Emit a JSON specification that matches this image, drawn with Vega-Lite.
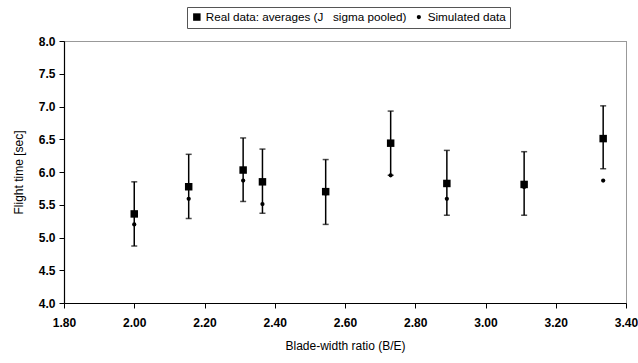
{
  "$schema": "https://vega.github.io/schema/vega-lite/v6.json",
  "width": 562,
  "height": 262,
  "autosize": "none",
  "padding": {"left": 64, "top": 41, "right": 12, "bottom": 60},
  "background": "white",
  "config": {
    "font": "Liberation Sans",
    "view": {"stroke": "#333", "strokeDash": [1, 1], "strokeWidth": 1},
    "axis": {"grid": false, "domainColor": "black", "tickColor": "black", "labelColor": "black", "titleColor": "black", "labelFontSize": 12, "labelFontWeight": "bold", "titleFontSize": 12, "titleFontWeight": "normal", "domainWidth": 1.2, "labelOverlap": false}
  },
  "data": {
    "values": [
      {"ratio": 2.00, "real": 5.36, "sim": 5.20, "lo": 4.87, "hi": 5.85},
      {"ratio": 2.155, "real": 5.775, "sim": 5.59, "lo": 5.29, "hi": 6.27},
      {"ratio": 2.31, "real": 6.03, "sim": 5.87, "lo": 5.55, "hi": 6.52},
      {"ratio": 2.365, "real": 5.85, "sim": 5.51, "lo": 5.37, "hi": 6.35},
      {"ratio": 2.545, "real": 5.70, "sim": 5.67, "lo": 5.20, "hi": 6.19},
      {"ratio": 2.73, "real": 6.44, "sim": 5.95, "lo": 5.95, "hi": 6.93},
      {"ratio": 2.89, "real": 5.825, "sim": 5.59, "lo": 5.34, "hi": 6.33},
      {"ratio": 3.11, "real": 5.81, "sim": 5.77, "lo": 5.34, "hi": 6.31},
      {"ratio": 3.335, "real": 6.51, "sim": 5.87, "lo": 6.05, "hi": 7.01}
    ]
  },
  "encoding": {
    "x": {
      "field": "ratio", "type": "quantitative",
      "scale": {"domain": [1.8, 3.4], "nice": false, "zero": false},
      "axis": {"values": [1.8, 2.0, 2.2, 2.4, 2.6, 2.8, 3.0, 3.2, 3.4], "format": ".2f", "title": "Blade-width ratio (B/E)", "tickSize": 5, "labelPadding": 9, "titlePadding": 12, "labelFlush": false}
    }
  },
  "layer": [
    {
      "mark": {"type": "rule", "color": "black", "strokeWidth": 1.5},
      "encoding": {
        "y": {"field": "lo", "type": "quantitative", "scale": {"domain": [4, 8], "nice": false, "zero": false},
          "axis": {"values": [4, 4.5, 5, 5.5, 6, 6.5, 7, 7.5, 8], "format": ".1f", "title": "Flight time [sec]", "tickSize": 5, "labelPadding": 4, "titlePadding": 13}},
        "y2": {"field": "hi"}
      }
    },
    {
      "mark": {"type": "tick", "color": "black", "orient": "horizontal", "size": 6, "thickness": 1.5},
      "encoding": {"y": {"field": "lo", "type": "quantitative",
          "axis": {"values": [4, 4.5, 5, 5.5, 6, 6.5, 7, 7.5, 8], "format": ".1f", "title": "Flight time [sec]", "tickSize": 5, "labelPadding": 4, "titlePadding": 13}}}
    },
    {
      "mark": {"type": "tick", "color": "black", "orient": "horizontal", "size": 6, "thickness": 1.5},
      "encoding": {"y": {"field": "hi", "type": "quantitative",
          "axis": {"values": [4, 4.5, 5, 5.5, 6, 6.5, 7, 7.5, 8], "format": ".1f", "title": "Flight time [sec]", "tickSize": 5, "labelPadding": 4, "titlePadding": 13}}}
    },
    {
      "transform": [{"fold": ["sim", "real"], "as": ["series", "value"]}],
      "mark": {"type": "point", "filled": true, "opacity": 1, "color": "black"},
      "encoding": {
        "y": {"field": "value", "type": "quantitative",
          "axis": {"values": [4, 4.5, 5, 5.5, 6, 6.5, 7, 7.5, 8], "format": ".1f", "title": "Flight time [sec]", "tickSize": 5, "labelPadding": 4, "titlePadding": 13}},
        "shape": {
          "field": "series", "type": "nominal",
          "scale": {"domain": ["real", "sim"], "range": ["square", "circle"]},
          "legend": {"title": null, "orient": "none", "legendX": 123, "legendY": -34, "direction": "horizontal", "labelExpr": "datum.value == 'real' ? 'Real data: averages (J\u00a0\u00a0 sigma pooled)' : 'Simulated data'", "labelFontSize": 11.7, "labelLimit": 400, "labelColor": "black", "strokeColor": "#555", "padding": 4, "columnPadding": 6, "labelOffset": 3, "symbolFillColor": "black", "symbolStrokeColor": "black",
            "encode": {"legend": {"update": {"strokeDash": {"value": [1, 1]}}}}}
        },
        "size": {
          "field": "series", "type": "nominal",
          "scale": {"domain": ["real", "sim"], "range": [56, 18]},
          "legend": {"title": null, "orient": "none", "legendX": 123, "legendY": -34, "direction": "horizontal", "labelExpr": "datum.value == 'real' ? 'Real data: averages (J\u00a0\u00a0 sigma pooled)' : 'Simulated data'", "labelFontSize": 11.7, "labelLimit": 400, "labelColor": "black", "strokeColor": "#555", "padding": 4, "columnPadding": 6, "labelOffset": 3, "symbolFillColor": "black", "symbolStrokeColor": "black",
            "encode": {"legend": {"update": {"strokeDash": {"value": [1, 1]}}}}}
        }
      }
    }
  ]
}
